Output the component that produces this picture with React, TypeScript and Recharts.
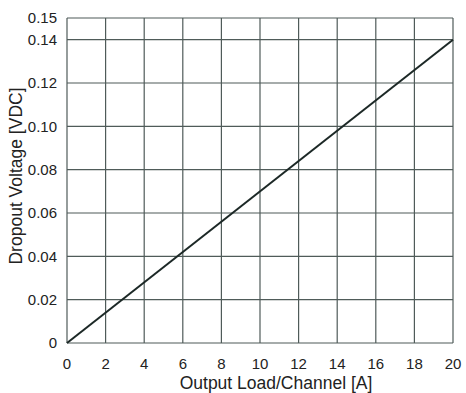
import React from "react";
import { LineChart, Line, XAxis, YAxis, CartesianGrid, Label } from "recharts";

const loadA = [0, 20];
const dropoutV = [0, 0.14];
const xTicks = [0, 2, 4, 6, 8, 10, 12, 14, 16, 18, 20];
const yTicks = [0, 0.02, 0.04, 0.06, 0.08, 0.1, 0.12, 0.14, 0.15];
const yTickLabels = ["0", "0.02", "0.04", "0.06", "0.08", "0.10", "0.12", "0.14", "0.15"];

const data = loadA.map((x, i) => ({ x, y: dropoutV[i] }));

const font = "'Liberation Sans', Arial, sans-serif";

export default function App() {
  return (
    <div style={{ position: "absolute", left: 0, top: 0, width: 466, height: 393, background: "#fff" }}>
      <LineChart width={466} height={393} data={data} margin={{ top: 18, right: 13, bottom: 0, left: 0 }}>
        <CartesianGrid stroke="#4f5b59" strokeWidth={1.2} horizontalValues={yTicks} verticalValues={xTicks} />
        <XAxis
          dataKey="x"
          type="number"
          domain={[0, 20]}
          ticks={xTicks}
          interval={0}
          axisLine={false}
          tickLine={false}
          height={50}
          tickMargin={9}
          tick={{ fontSize: 15, fill: "#222", fontFamily: font }}
        >
          <Label
            content={() => (
              <text x={276} y={389} textAnchor="middle" fontSize={17.5} fill="#222" fontFamily={font}>
                Output Load/Channel [A]
              </text>
            )}
          />
        </XAxis>
        <YAxis
          type="number"
          domain={[0, 0.15]}
          ticks={yTicks}
          interval={0}
          axisLine={false}
          tickLine={false}
          width={67}
          tickMargin={4}
          tickFormatter={(v: number) => yTickLabels[yTicks.indexOf(v)] ?? String(v)}
          tick={{ fontSize: 15, fill: "#222", fontFamily: font }}
        >
          <Label
            content={() => (
              <text
                x={22}
                y={176}
                transform="rotate(-90 22 176)"
                textAnchor="middle"
                fontSize={17.5}
                fill="#222"
                fontFamily={font}
              >
                Dropout Voltage [VDC]
              </text>
            )}
          />
        </YAxis>
        <Line type="linear" dataKey="y" stroke="#1c2826" strokeWidth={2} dot={false} isAnimationActive={false} />
      </LineChart>
    </div>
  );
}
